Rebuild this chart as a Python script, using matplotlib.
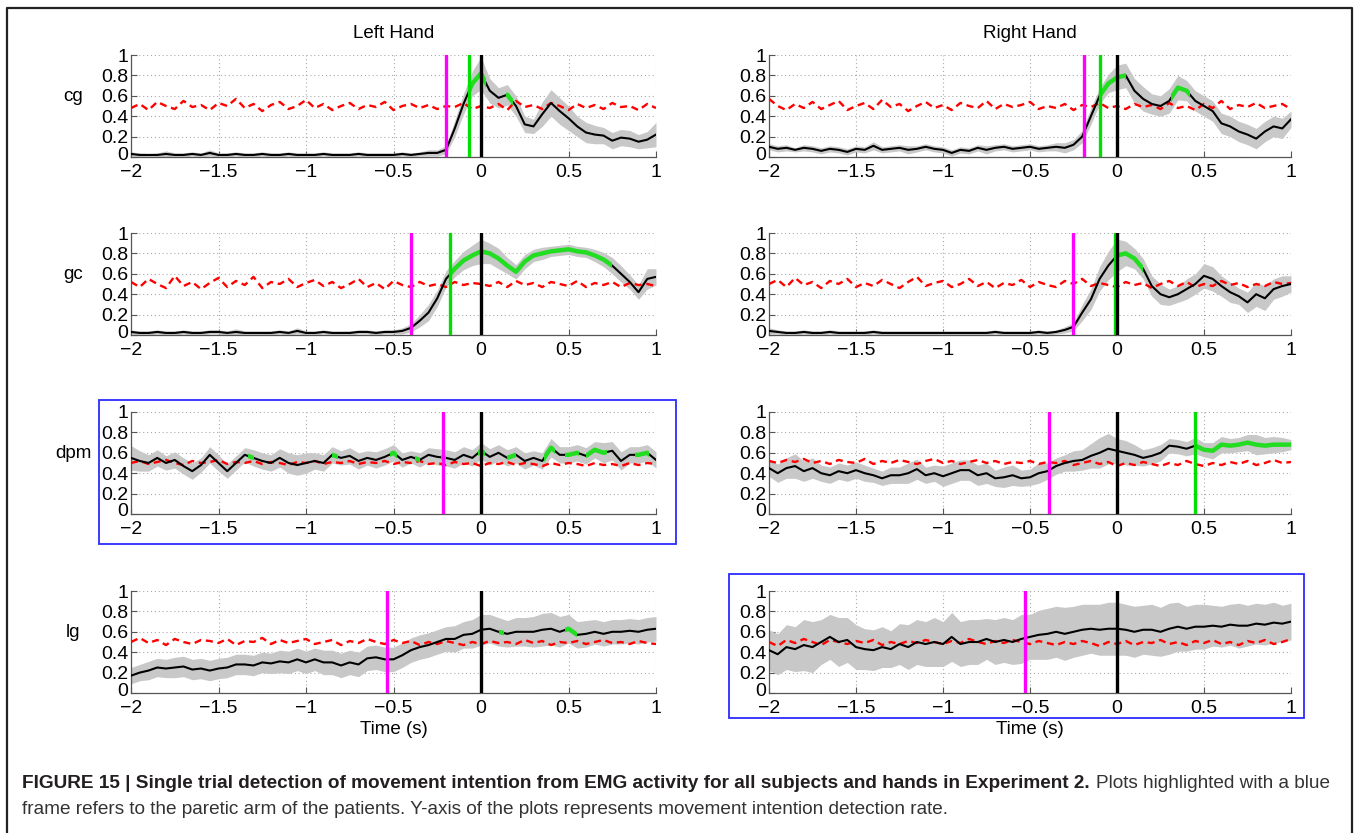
import numpy as np
import matplotlib
matplotlib.use('Agg')
import matplotlib.pyplot as plt
import matplotlib.transforms as mtransforms
from matplotlib.patches import Rectangle
from matplotlib.lines import Line2D
from matplotlib import font_manager

# ── Figure geometry (pixels) ─────────────────────────────────────────────────
W, H = 1356, 833
installed = {f.name for f in font_manager.fontManager.ttflist}
FONT = 'Liberation Sans' if 'Liberation Sans' in installed else 'DejaVu Sans'
plt.rcParams['font.family'] = [FONT, 'DejaVu Sans']

# ── Data: detection rate, sampled every 50 ms from -2 s to 1 s ───────────────
time = np.linspace(-2.0, 1.0, 61)

hands = ['Left Hand', 'Right Hand']
muscles = ['cg', 'gc', 'dpm', 'lg']

# onset (magenta), first detection (green, None = none) per muscle
left_onset = [-0.20, -0.40, -0.22, -0.54]
right_onset = [-0.19, -0.25, -0.39, -0.53]
left_detect = [-0.07, -0.18, None, None]
right_detect = [-0.10, -0.01, 0.45, None]

# ---- left hand, cg
lh_cg_mean = [0.03, 0.02, 0.02, 0.02, 0.03, 0.02, 0.02, 0.03, 0.02, 0.04,
              0.02, 0.02, 0.03, 0.02, 0.02, 0.03, 0.02, 0.02, 0.03, 0.02,
              0.02, 0.02, 0.03, 0.02, 0.02, 0.02, 0.03, 0.02, 0.02, 0.02,
              0.02, 0.03, 0.02, 0.03, 0.04, 0.04, 0.07, 0.28, 0.52, 0.72,
              0.82, 0.65, 0.58, 0.61, 0.50, 0.32, 0.30, 0.42, 0.53, 0.45,
              0.38, 0.30, 0.24, 0.22, 0.21, 0.16, 0.19, 0.18, 0.15, 0.17, 0.22]
lh_cg_spread = [0.02, 0.02, 0.015, 0.02, 0.03, 0.02, 0.02, 0.02, 0.02, 0.03,
                0.02, 0.02, 0.02, 0.02, 0.02, 0.02, 0.02, 0.02, 0.02, 0.02,
                0.02, 0.02, 0.02, 0.02, 0.02, 0.02, 0.02, 0.02, 0.02, 0.02,
                0.02, 0.02, 0.02, 0.02, 0.03, 0.03, 0.04, 0.08, 0.10, 0.12,
                0.16, 0.12, 0.10, 0.10, 0.10, 0.08, 0.07, 0.12, 0.13, 0.13,
                0.12, 0.10, 0.10, 0.09, 0.08, 0.08, 0.08, 0.08, 0.07, 0.08, 0.12]
lh_cg_chance = [0.48, 0.52, 0.46, 0.54, 0.50, 0.47, 0.55, 0.49, 0.51, 0.46,
                0.53, 0.50, 0.57, 0.48, 0.52, 0.45, 0.51, 0.54, 0.47, 0.50,
                0.56, 0.48, 0.52, 0.46, 0.50, 0.53, 0.47, 0.51, 0.49, 0.54,
                0.46, 0.50, 0.52, 0.48, 0.51, 0.47, 0.50, 0.49, 0.53, 0.47,
                0.50, 0.48, 0.52, 0.46, 0.55, 0.49, 0.51, 0.47, 0.53, 0.50,
                0.46, 0.52, 0.48, 0.51, 0.47, 0.53, 0.49, 0.50, 0.46, 0.52, 0.48]
lh_cg_signif = [(-0.07, 0.03), (0.14, 0.18)]

# ---- right hand, cg
rh_cg_mean = [0.10, 0.08, 0.09, 0.07, 0.09, 0.08, 0.06, 0.08, 0.07, 0.05,
              0.08, 0.07, 0.11, 0.07, 0.08, 0.09, 0.07, 0.08, 0.10, 0.08,
              0.07, 0.04, 0.07, 0.06, 0.09, 0.07, 0.09, 0.10, 0.08, 0.09,
              0.10, 0.08, 0.09, 0.10, 0.09, 0.12, 0.20, 0.40, 0.60, 0.72,
              0.78, 0.80, 0.65, 0.57, 0.52, 0.50, 0.55, 0.68, 0.65, 0.55,
              0.50, 0.45, 0.33, 0.30, 0.25, 0.22, 0.18, 0.25, 0.30, 0.28, 0.37]
rh_cg_spread = [0.03, 0.03, 0.03, 0.02, 0.03, 0.03, 0.03, 0.03, 0.03, 0.03,
                0.03, 0.03, 0.04, 0.03, 0.03, 0.03, 0.04, 0.03, 0.03, 0.03,
                0.03, 0.03, 0.03, 0.03, 0.03, 0.04, 0.03, 0.03, 0.03, 0.03,
                0.03, 0.03, 0.03, 0.04, 0.05, 0.05, 0.06, 0.08, 0.08, 0.09,
                0.12, 0.12, 0.12, 0.12, 0.10, 0.10, 0.12, 0.12, 0.10, 0.10,
                0.10, 0.10, 0.10, 0.10, 0.10, 0.10, 0.10, 0.10, 0.10, 0.10, 0.08]
rh_cg_chance = [0.57, 0.50, 0.46, 0.52, 0.48, 0.54, 0.47, 0.51, 0.55, 0.46,
                0.50, 0.53, 0.47, 0.56, 0.49, 0.52, 0.45, 0.50, 0.54, 0.48,
                0.51, 0.46, 0.53, 0.50, 0.48, 0.55, 0.47, 0.52, 0.49, 0.51,
                0.54, 0.47, 0.50, 0.48, 0.52, 0.46, 0.51, 0.49, 0.53, 0.48,
                0.50, 0.47, 0.52, 0.49, 0.51, 0.47, 0.53, 0.48, 0.50, 0.46,
                0.52, 0.48, 0.55, 0.47, 0.51, 0.49, 0.53, 0.48, 0.50, 0.52, 0.47]
rh_cg_signif = [(-0.10, 0.05), (0.31, 0.42)]

# ---- left hand, gc
lh_gc_mean = [0.03, 0.02, 0.02, 0.03, 0.02, 0.02, 0.03, 0.02, 0.02, 0.03,
              0.03, 0.02, 0.03, 0.02, 0.02, 0.02, 0.02, 0.03, 0.02, 0.04,
              0.02, 0.02, 0.03, 0.02, 0.02, 0.02, 0.03, 0.03, 0.02, 0.03,
              0.03, 0.04, 0.07, 0.14, 0.22, 0.36, 0.55, 0.65, 0.73, 0.78,
              0.82, 0.80, 0.75, 0.68, 0.62, 0.72, 0.78, 0.80, 0.82, 0.83,
              0.84, 0.82, 0.81, 0.78, 0.74, 0.68, 0.60, 0.52, 0.42, 0.55, 0.57]
lh_gc_spread = [0.02, 0.02, 0.02, 0.02, 0.02, 0.02, 0.02, 0.02, 0.02, 0.02,
                0.02, 0.02, 0.03, 0.02, 0.02, 0.02, 0.02, 0.02, 0.02, 0.03,
                0.02, 0.02, 0.02, 0.02, 0.02, 0.02, 0.02, 0.02, 0.02, 0.02,
                0.02, 0.03, 0.04, 0.06, 0.08, 0.08, 0.08, 0.08, 0.09, 0.10,
                0.12, 0.10, 0.10, 0.08, 0.07, 0.07, 0.06, 0.06, 0.05, 0.05,
                0.05, 0.05, 0.05, 0.06, 0.07, 0.08, 0.08, 0.07, 0.07, 0.10, 0.08]
lh_gc_chance = [0.52, 0.47, 0.55, 0.50, 0.46, 0.58, 0.48, 0.52, 0.45, 0.51,
                0.56, 0.47, 0.53, 0.49, 0.57, 0.46, 0.52, 0.50, 0.55, 0.47,
                0.51, 0.54, 0.48, 0.52, 0.46, 0.50, 0.55, 0.47, 0.51, 0.45,
                0.53, 0.49, 0.47, 0.52, 0.48, 0.50, 0.47, 0.52, 0.49, 0.51,
                0.50, 0.48, 0.52, 0.47, 0.53, 0.49, 0.51, 0.47, 0.52, 0.50,
                0.48, 0.53, 0.47, 0.51, 0.49, 0.52, 0.47, 0.51, 0.49, 0.50, 0.48]
lh_gc_signif = [(-0.18, 0.75)]

# ---- right hand, gc
rh_gc_mean = [0.04, 0.03, 0.02, 0.02, 0.03, 0.02, 0.02, 0.03, 0.02, 0.02,
              0.02, 0.02, 0.03, 0.02, 0.02, 0.02, 0.02, 0.02, 0.02, 0.02,
              0.02, 0.02, 0.02, 0.02, 0.02, 0.02, 0.03, 0.02, 0.02, 0.02,
              0.02, 0.03, 0.02, 0.03, 0.05, 0.08, 0.22, 0.35, 0.55, 0.68,
              0.78, 0.80, 0.75, 0.65, 0.48, 0.40, 0.37, 0.40, 0.45, 0.50,
              0.58, 0.55, 0.48, 0.42, 0.38, 0.32, 0.40, 0.36, 0.45, 0.48, 0.50]
rh_gc_spread = [0.03, 0.02, 0.02, 0.02, 0.02, 0.02, 0.02, 0.02, 0.02, 0.02,
                0.02, 0.02, 0.02, 0.02, 0.02, 0.02, 0.02, 0.02, 0.02, 0.02,
                0.02, 0.02, 0.02, 0.02, 0.02, 0.02, 0.02, 0.02, 0.02, 0.02,
                0.02, 0.02, 0.02, 0.02, 0.03, 0.04, 0.08, 0.10, 0.12, 0.14,
                0.16, 0.12, 0.10, 0.10, 0.10, 0.10, 0.08, 0.08, 0.10, 0.10,
                0.12, 0.12, 0.10, 0.10, 0.08, 0.10, 0.12, 0.12, 0.10, 0.10, 0.08]
rh_gc_chance = [0.50, 0.54, 0.47, 0.56, 0.49, 0.52, 0.46, 0.53, 0.50, 0.55,
                0.47, 0.51, 0.48, 0.54, 0.50, 0.46, 0.52, 0.57, 0.48, 0.51,
                0.53, 0.47, 0.50, 0.55, 0.48, 0.52, 0.46, 0.51, 0.49, 0.54,
                0.47, 0.52, 0.49, 0.47, 0.53, 0.50, 0.55, 0.48, 0.51, 0.49,
                0.47, 0.52, 0.49, 0.51, 0.46, 0.50, 0.53, 0.48, 0.52, 0.47,
                0.50, 0.48, 0.53, 0.49, 0.51, 0.47, 0.50, 0.48, 0.52, 0.50, 0.51]
rh_gc_signif = [(0.0, 0.15)]

# ---- left hand, dpm (paretic)
lh_dpm_mean = [0.55, 0.52, 0.50, 0.55, 0.50, 0.53, 0.47, 0.42, 0.48, 0.58,
               0.50, 0.42, 0.50, 0.58, 0.55, 0.52, 0.50, 0.55, 0.50, 0.48,
               0.50, 0.52, 0.50, 0.58, 0.55, 0.57, 0.52, 0.55, 0.53, 0.56,
               0.60, 0.53, 0.56, 0.53, 0.58, 0.56, 0.55, 0.53, 0.58, 0.55,
               0.62, 0.56, 0.60, 0.55, 0.58, 0.52, 0.55, 0.52, 0.65, 0.58,
               0.58, 0.60, 0.57, 0.63, 0.60, 0.62, 0.52, 0.58, 0.58, 0.60, 0.53]
lh_dpm_spread = [0.12, 0.10, 0.08, 0.08, 0.07, 0.08, 0.08, 0.08, 0.07, 0.08,
                 0.08, 0.07, 0.07, 0.07, 0.08, 0.08, 0.08, 0.09, 0.10, 0.10,
                 0.10, 0.08, 0.08, 0.08, 0.07, 0.08, 0.08, 0.07, 0.08, 0.08,
                 0.08, 0.07, 0.06, 0.07, 0.07, 0.08, 0.08, 0.08, 0.08, 0.08,
                 0.08, 0.08, 0.08, 0.08, 0.08, 0.08, 0.07, 0.08, 0.09, 0.08,
                 0.08, 0.08, 0.08, 0.08, 0.10, 0.09, 0.09, 0.08, 0.08, 0.08, 0.08]
lh_dpm_chance = [0.50, 0.52, 0.49, 0.51, 0.53, 0.50, 0.48, 0.52, 0.50, 0.51,
                 0.53, 0.49, 0.51, 0.50, 0.52, 0.49, 0.51, 0.50, 0.48, 0.51,
                 0.50, 0.52, 0.49, 0.51, 0.50, 0.52, 0.49, 0.51, 0.50, 0.52,
                 0.49, 0.51, 0.50, 0.52, 0.49, 0.50, 0.48, 0.51, 0.49, 0.50,
                 0.47, 0.50, 0.49, 0.51, 0.48, 0.50, 0.49, 0.47, 0.50, 0.48,
                 0.50, 0.49, 0.47, 0.50, 0.48, 0.49, 0.47, 0.50, 0.48, 0.50, 0.49]
lh_dpm_signif = [(-1.33, -1.30), (-0.85, -0.82), (-0.52, -0.48), (-0.38, -0.35),
                 (-0.23, -0.20), (-0.02, 0.02), (0.15, 0.20), (0.36, 0.42),
                 (0.48, 0.56), (0.60, 0.72), (0.88, 0.96)]

# ---- right hand, dpm
rh_dpm_mean = [0.45, 0.40, 0.45, 0.47, 0.42, 0.45, 0.40, 0.38, 0.42, 0.40,
               0.43, 0.40, 0.38, 0.35, 0.38, 0.38, 0.40, 0.44, 0.38, 0.40,
               0.37, 0.40, 0.43, 0.43, 0.38, 0.40, 0.35, 0.36, 0.38, 0.35,
               0.36, 0.40, 0.42, 0.47, 0.50, 0.52, 0.53, 0.57, 0.60, 0.64,
               0.62, 0.60, 0.58, 0.55, 0.57, 0.60, 0.67, 0.66, 0.64, 0.67,
               0.63, 0.62, 0.68, 0.67, 0.68, 0.70, 0.68, 0.67, 0.68, 0.68, 0.68]
rh_dpm_spread = [0.08, 0.09, 0.10, 0.12, 0.10, 0.10, 0.08, 0.08, 0.08, 0.08,
                 0.08, 0.08, 0.07, 0.07, 0.08, 0.08, 0.10, 0.10, 0.08, 0.08,
                 0.10, 0.10, 0.10, 0.10, 0.10, 0.10, 0.08, 0.10, 0.10, 0.08,
                 0.08, 0.10, 0.08, 0.08, 0.08, 0.10, 0.10, 0.12, 0.15, 0.15,
                 0.12, 0.12, 0.10, 0.08, 0.08, 0.08, 0.07, 0.07, 0.07, 0.08,
                 0.07, 0.08, 0.08, 0.07, 0.07, 0.08, 0.10, 0.08, 0.08, 0.07, 0.05]
rh_dpm_chance = [0.52, 0.50, 0.53, 0.51, 0.54, 0.50, 0.52, 0.49, 0.53, 0.51,
                 0.50, 0.54, 0.49, 0.52, 0.50, 0.53, 0.51, 0.49, 0.52, 0.54,
                 0.50, 0.52, 0.49, 0.51, 0.53, 0.50, 0.52, 0.49, 0.51, 0.50,
                 0.52, 0.49, 0.51, 0.50, 0.52, 0.48, 0.50, 0.52, 0.49, 0.51,
                 0.47, 0.50, 0.48, 0.51, 0.49, 0.47, 0.50, 0.48, 0.52, 0.49,
                 0.47, 0.50, 0.48, 0.51, 0.49, 0.52, 0.48, 0.50, 0.53, 0.50, 0.51]
rh_dpm_signif = [(0.45, 1.0)]

# ---- left hand, lg
lh_lg_mean = [0.17, 0.20, 0.22, 0.25, 0.24, 0.25, 0.26, 0.23, 0.24, 0.22,
              0.24, 0.25, 0.28, 0.28, 0.27, 0.30, 0.29, 0.31, 0.30, 0.33,
              0.30, 0.33, 0.30, 0.30, 0.27, 0.30, 0.28, 0.34, 0.35, 0.33,
              0.33, 0.37, 0.42, 0.45, 0.47, 0.50, 0.53, 0.53, 0.57, 0.58,
              0.62, 0.63, 0.60, 0.58, 0.60, 0.60, 0.60, 0.62, 0.63, 0.60,
              0.63, 0.57, 0.58, 0.60, 0.58, 0.60, 0.60, 0.61, 0.60, 0.62, 0.63]
lh_lg_spread = [0.08, 0.08, 0.09, 0.09, 0.09, 0.10, 0.10, 0.10, 0.10, 0.10,
                0.10, 0.10, 0.10, 0.10, 0.10, 0.10, 0.10, 0.11, 0.11, 0.11,
                0.11, 0.11, 0.12, 0.12, 0.12, 0.12, 0.12, 0.12, 0.12, 0.12,
                0.12, 0.12, 0.12, 0.12, 0.12, 0.12, 0.12, 0.13, 0.13, 0.14,
                0.15, 0.14, 0.14, 0.13, 0.14, 0.14, 0.15, 0.16, 0.16, 0.15,
                0.14, 0.13, 0.13, 0.12, 0.12, 0.12, 0.12, 0.12, 0.12, 0.12, 0.12]
lh_lg_chance = [0.50, 0.54, 0.49, 0.52, 0.47, 0.53, 0.50, 0.48, 0.52, 0.51,
                0.49, 0.53, 0.47, 0.51, 0.50, 0.54, 0.48, 0.52, 0.49, 0.51,
                0.53, 0.48, 0.50, 0.52, 0.47, 0.51, 0.49, 0.53, 0.50, 0.48,
                0.52, 0.49, 0.51, 0.47, 0.50, 0.48, 0.51, 0.49, 0.47, 0.50,
                0.48, 0.51, 0.49, 0.50, 0.48, 0.52, 0.49, 0.51, 0.47, 0.50,
                0.49, 0.51, 0.48, 0.50, 0.52, 0.49, 0.50, 0.48, 0.51, 0.49, 0.48]
lh_lg_signif = [(0.10, 0.13), (0.48, 0.55)]

# ---- right hand, lg (paretic)
rh_lg_mean = [0.42, 0.38, 0.45, 0.43, 0.47, 0.45, 0.50, 0.55, 0.50, 0.52,
              0.45, 0.43, 0.42, 0.45, 0.43, 0.48, 0.45, 0.50, 0.48, 0.50,
              0.48, 0.55, 0.48, 0.50, 0.50, 0.53, 0.50, 0.52, 0.50, 0.53,
              0.55, 0.57, 0.58, 0.60, 0.58, 0.60, 0.62, 0.63, 0.62, 0.63,
              0.63, 0.62, 0.60, 0.62, 0.62, 0.60, 0.63, 0.65, 0.63, 0.65,
              0.65, 0.66, 0.65, 0.67, 0.66, 0.66, 0.68, 0.67, 0.69, 0.68, 0.70]
rh_lg_spread = [0.20, 0.20, 0.22, 0.22, 0.25, 0.25, 0.22, 0.22, 0.24, 0.22,
                0.22, 0.20, 0.20, 0.20, 0.18, 0.20, 0.22, 0.22, 0.22, 0.24,
                0.22, 0.24, 0.22, 0.22, 0.22, 0.20, 0.22, 0.22, 0.22, 0.24,
                0.22, 0.24, 0.25, 0.25, 0.26, 0.25, 0.25, 0.24, 0.25, 0.26,
                0.26, 0.25, 0.25, 0.24, 0.25, 0.24, 0.25, 0.24, 0.22, 0.22,
                0.22, 0.20, 0.20, 0.20, 0.22, 0.20, 0.20, 0.20, 0.20, 0.18, 0.18]
rh_lg_chance = [0.50, 0.46, 0.52, 0.49, 0.53, 0.50, 0.47, 0.52, 0.50, 0.48,
                0.51, 0.49, 0.52, 0.47, 0.50, 0.48, 0.51, 0.49, 0.52, 0.50,
                0.48, 0.51, 0.49, 0.53, 0.50, 0.48, 0.51, 0.49, 0.52, 0.50,
                0.48, 0.51, 0.49, 0.47, 0.50, 0.48, 0.51, 0.49, 0.46, 0.50,
                0.48, 0.51, 0.47, 0.50, 0.49, 0.52, 0.48, 0.50, 0.47, 0.51,
                0.49, 0.52, 0.48, 0.50, 0.47, 0.51, 0.49, 0.52, 0.48, 0.50, 0.53]
rh_lg_signif = []

series = {
    (0, 0): (lh_cg_mean, lh_cg_spread, lh_cg_chance, lh_cg_signif),
    (0, 1): (rh_cg_mean, rh_cg_spread, rh_cg_chance, rh_cg_signif),
    (1, 0): (lh_gc_mean, lh_gc_spread, lh_gc_chance, lh_gc_signif),
    (1, 1): (rh_gc_mean, rh_gc_spread, rh_gc_chance, rh_gc_signif),
    (2, 0): (lh_dpm_mean, lh_dpm_spread, lh_dpm_chance, lh_dpm_signif),
    (2, 1): (rh_dpm_mean, rh_dpm_spread, rh_dpm_chance, rh_dpm_signif),
    (3, 0): (lh_lg_mean, lh_lg_spread, lh_lg_chance, lh_lg_signif),
    (3, 1): (rh_lg_mean, rh_lg_spread, rh_lg_chance, rh_lg_signif),
}
for key, arrs in series.items():
    for a in arrs[:3]:
        assert len(a) == len(time), (key, len(a))

# ── Layout (pixel boxes) ─────────────────────────────────────────────────────
col_x = [(131, 656), (769, 1291)]
row_y = [(55, 157), (233, 335), (412, 514), (591, 693)]
blue_frames = [(99, 400, 676, 544), (729, 574, 1304, 718)]

GRAY = '#c8c8c8'
GREEN = '#22dd22'
TICK_FS = 14
LABEL_FS = 13.5

fig = plt.figure(figsize=(W / 100, H / 100), dpi=100)
# nudge the "0" y tick label up so it clears the "-2" x tick label
zero_lift = mtransforms.ScaledTranslation(0, 4 / 100, fig.dpi_scale_trans)


def px_rect(x0, y0, x1, y1):
    return [x0 / W, 1 - y1 / H, (x1 - x0) / W, (y1 - y0) / H]


for (r, c), (mean, spread, chance, signif) in series.items():
    x0, x1 = col_x[c]
    y0, y1 = row_y[r]
    ax = fig.add_axes(px_rect(x0, y0, x1, y1))
    mean = np.array(mean)
    spread = np.array(spread)
    lo = np.clip(mean - spread, 0, 1)
    hi = np.clip(mean + spread, 0, 1)
    ax.fill_between(time, lo, hi, color=GRAY, lw=0, zorder=2)
    ax.plot(time, chance, color='red', lw=1.7, ls=(0, (3, 2)), zorder=3)
    ax.plot(time, mean, color='black', lw=1.5, zorder=4)
    for a, b in signif:
        ln, = ax.plot(time, mean, color=GREEN, lw=3.2, zorder=5)
        ln.set_clip_path(Rectangle((a, -0.5), b - a, 2.0, transform=ax.transData))
    onset = (left_onset if c == 0 else right_onset)[r]
    detect = (left_detect if c == 0 else right_detect)[r]
    ax.axvline(onset, color='#ff00ff', lw=2.4, zorder=6)
    if detect is not None:
        ax.axvline(detect, color='#00e000', lw=2.4, zorder=6)
    ax.axvline(0, color='black', lw=2.4, zorder=6)

    ax.set_xlim(-2, 1)
    ax.set_ylim(0, 1)
    ax.set_xticks([-2, -1.5, -1, -0.5, 0, 0.5, 1])
    ax.set_xticklabels(['\u22122', '\u22121.5', '\u22121', '\u22120.5', '0', '0.5', '1'])
    ax.set_yticks([0, 0.2, 0.4, 0.6, 0.8, 1])
    ax.set_yticklabels(['0', '0.2', '0.4', '0.6', '0.8', '1'])
    ax.tick_params(direction='in', length=4, width=0.8, color='#555555',
                   labelcolor='black', labelsize=TICK_FS)
    ax.tick_params(axis='y', pad=2)
    ax.tick_params(axis='x', pad=5)
    lab0 = ax.get_yticklabels()[0]
    lab0.set_transform(lab0.get_transform() + zero_lift)
    ax.grid(True, ls=(0, (1, 2.5)), color='#aaaaaa', lw=0.8, zorder=0)
    ax.set_axisbelow(True)
    for s in ['top', 'right']:
        ax.spines[s].set_visible(False)
    for s in ['left', 'bottom']:
        ax.spines[s].set_color('#555555')
        ax.spines[s].set_linewidth(0.9)
    if c == 0:
        fig.text(73 / W, 1 - (y1 - 0.59 * (y1 - y0)) / H, muscles[r],
                 ha='center', va='center', fontsize=LABEL_FS)
    if r == 0:
        fig.text((x0 + x1) / 2 / W, 1 - 33 / H, hands[c],
                 ha='center', va='center', fontsize=LABEL_FS)
    if r == 3:
        fig.text((x0 + x1) / 2 / W, 1 - 729 / H, 'Time (s)',
                 ha='center', va='center', fontsize=LABEL_FS)

# blue frames marking the paretic arm
for bx0, by0, bx1, by1 in blue_frames:
    fig.patches.append(Rectangle((bx0 / W, 1 - by1 / H), (bx1 - bx0) / W, (by1 - by0) / H,
                                 transform=fig.transFigure, fill=False,
                                 edgecolor='#2b2bff', lw=1.3))

# outer page frame (open at the bottom)
fig.lines.append(Line2D([7 / W, 7 / W, 1352 / W, 1352 / W],
                        [-0.01, 1 - 8 / H, 1 - 8 / H, -0.01],
                        transform=fig.transFigure, color='#222222', lw=1.6))

# ── Caption ──────────────────────────────────────────────────────────────────
cap_bold = ('FIGURE 15 | Single trial detection of movement intention from EMG activity '
            'for all subjects and hands in Experiment 2.')
cap_rest1 = 'Plots highlighted with a blue'
cap_line2 = ('frame refers to the paretic arm of the patients. Y-axis of the plots '
             'represents movement intention detection rate.')

renderer = fig.canvas.get_renderer()
tb = fig.text(22 / W, 1 - 784 / H, cap_bold, fontsize=10, fontweight='bold',
              color='#231f20', ha='left', va='center')
tr = fig.text(0, 1 - 784 / H, cap_rest1, fontsize=10, color='#333333',
              ha='left', va='center')
t2 = fig.text(22 / W, 1 - 810 / H, cap_line2, fontsize=10, color='#333333',
              ha='left', va='center')
wb = tb.get_window_extent(renderer).width
wr = tr.get_window_extent(renderer).width
gap = 6
scale = (1337 - 22 - gap) / (wb + wr)
for t in (tb, tr, t2):
    t.set_fontsize(10 * scale)
wb = tb.get_window_extent(renderer).width
tr.set_x((22 + wb + gap) / W)

fig.savefig('out.png', dpi=100)
